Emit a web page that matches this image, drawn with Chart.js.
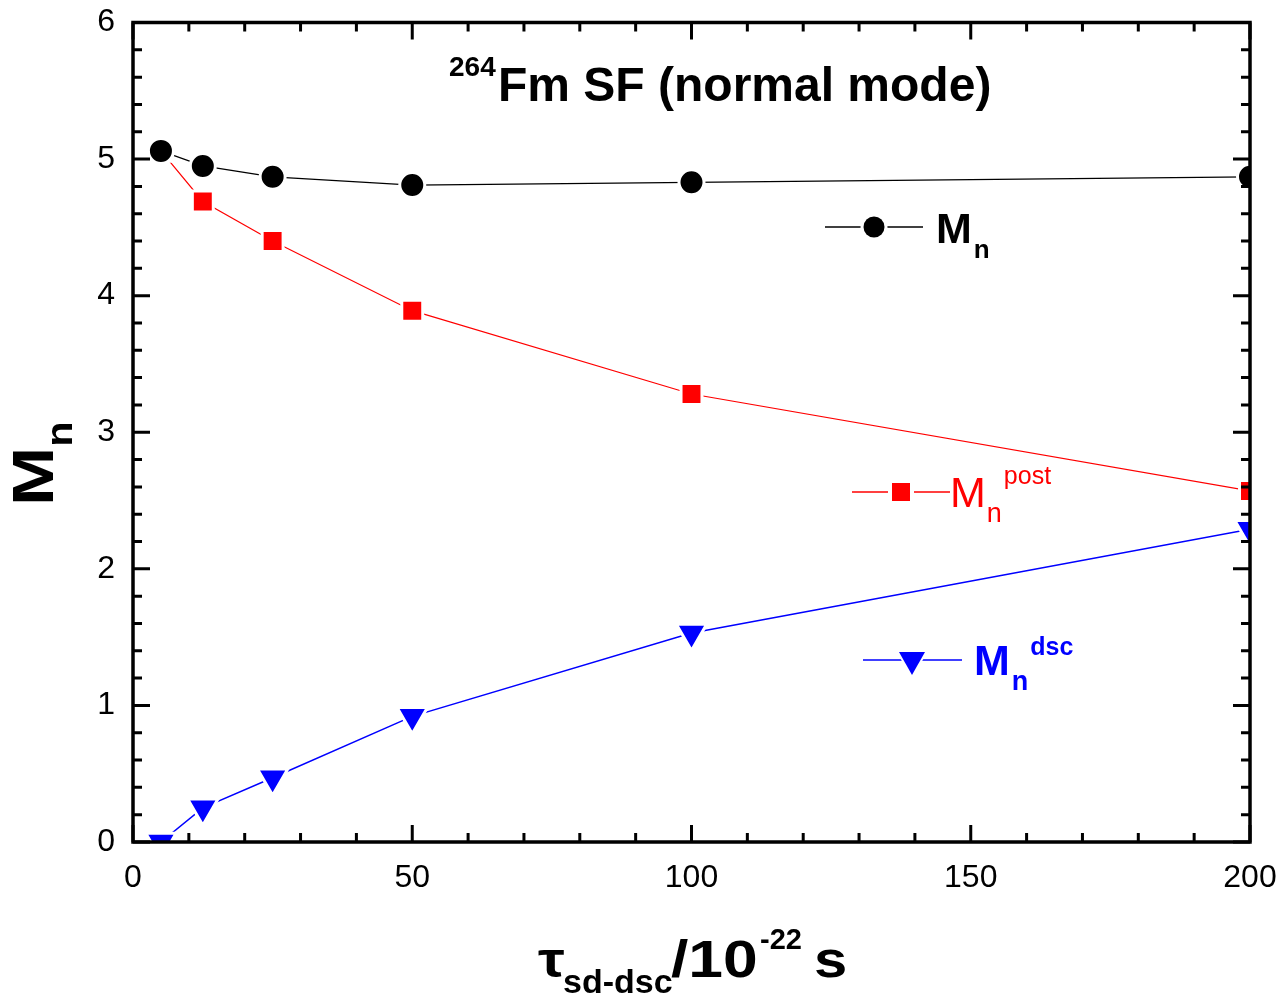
<!DOCTYPE html>
<html>
<head>
<meta charset="utf-8">
<script src="https://cdn.jsdelivr.net/npm/chart.js@4.4.1/dist/chart.umd.min.js"></script>
<style>
html,body{margin:0;padding:0;background:#fff;}
#wrap{width:1285px;height:1002px;position:relative;}
</style>
</head>
<body>
<div id="wrap"><canvas id="c" width="1285" height="1002"></canvas></div>
<script>
// ---- data ----
const tauValues = [5, 12.5, 25, 50, 100, 200];
const mnTotal = [5.06, 4.95, 4.87, 4.81, 4.83, 4.87];
const mnPost  = [5.06, 4.69, 4.40, 3.89, 3.28, 2.57];
const mnDsc   = [0.00, 0.25, 0.47, 0.92, 1.53, 2.29];
const xTicks = [0, 50, 100, 150, 200];
const yTicks = [0, 1, 2, 3, 4, 5, 6];

const FONT = '"Liberation Sans", Arial, Helvetica, sans-serif';
const pts = (ys) => tauValues.map((x, i) => ({x: x, y: ys[i]}));

// segments: t text, f font, dy baseline shift, c colour, gap, ax absolute x, sx horizontal scale
function drawRich(ctx, x, y, segs) {
  let cx = x;
  segs.forEach(s => {
    ctx.font = s.f + ' ' + FONT;
    ctx.fillStyle = s.c || '#000';
    ctx.textBaseline = 'alphabetic';
    ctx.textAlign = 'left';
    if (s.ax !== undefined) cx = s.ax;
    cx += (s.gap || 0);
    const sx = s.sx || 1;
    ctx.save();
    ctx.translate(cx, y + (s.dy || 0));
    ctx.scale(sx, 1);
    ctx.fillText(s.t, 0, 0);
    ctx.restore();
    cx += ctx.measureText(s.t).width * sx;
  });
  return cx;
}

const decor = {
  id: 'decor',
  afterDraw(chart) {
    const ctx = chart.ctx;
    const xs = chart.scales.x, ys = chart.scales.y;
    const a = chart.chartArea;
    ctx.save();
    // ticks (inward on all four sides)
    ctx.strokeStyle = '#000';
    ctx.lineWidth = 3;
    ctx.lineCap = 'butt';
    const MAJ = 17, MIN = 9;
    for (let v = 0; v <= 200.001; v += 10) {
      const px = xs.getPixelForValue(v);
      const L = (Math.abs(v % 50) < 1e-6) ? MAJ : MIN;
      ctx.beginPath();
      ctx.moveTo(px, a.bottom); ctx.lineTo(px, a.bottom - L);
      ctx.moveTo(px, a.top); ctx.lineTo(px, a.top + L);
      ctx.stroke();
    }
    for (let k = 0; k <= 30; k++) {
      const v = k * 0.2;
      const py = ys.getPixelForValue(v);
      const L = (k % 5 === 0) ? MAJ : MIN;
      ctx.beginPath();
      ctx.moveTo(a.left, py); ctx.lineTo(a.left + L, py);
      ctx.moveTo(a.right, py); ctx.lineTo(a.right - L, py);
      ctx.stroke();
    }
    // frame
    ctx.lineWidth = 3.5;
    ctx.strokeRect(a.left, a.top, a.right - a.left, a.bottom - a.top);

    // in-plot title
    drawRich(ctx, 449, 101, [
      {t: '264', f: 'bold 28px', dy: -25},
      {t: 'Fm SF (normal mode)', f: 'bold 48px', ax: 498}
    ]);

    // x axis title
    drawRich(ctx, 538, 977, [
      {t: '\u03C4', f: 'bold 50px', sx: 1.2},
      {t: 'sd-dsc', f: 'bold 34px', dy: 16, ax: 563},
      {t: '/10', f: 'bold 52px', sx: 1.2, ax: 671},
      {t: '-22', f: 'bold 29px', dy: -28, ax: 760},
      {t: 's', f: 'bold 52px', sx: 1.15, ax: 814}
    ]);

    // y axis title (rotated)
    ctx.save();
    ctx.translate(53, 506);
    ctx.rotate(-Math.PI / 2);
    drawRich(ctx, 0, 0, [
      {t: 'M', f: 'bold 57px', sx: 1.25},
      {t: 'n', f: 'bold 36px', dy: 19, sx: 1.15}
    ]);
    ctx.restore();

    // legend entries
    function legendLine(x1, x2, y, color, w) {
      ctx.strokeStyle = color; ctx.lineWidth = w;
      ctx.beginPath(); ctx.moveTo(x1, y); ctx.lineTo(x2, y); ctx.stroke();
    }
    // black
    legendLine(825, 923, 227, '#000', 1.5);
    ctx.fillStyle = '#fff';
    ctx.beginPath(); ctx.arc(874, 227, 13.5, 0, Math.PI * 2); ctx.fill();
    ctx.fillStyle = '#000';
    ctx.beginPath(); ctx.arc(874, 227, 10.5, 0, Math.PI * 2); ctx.fill();
    drawRich(ctx, 936, 243, [
      {t: 'M', f: 'bold 43px', c: '#000'},
      {t: 'n', f: 'bold 26px', dy: 15, c: '#000', gap: 2}
    ]);
    // red
    legendLine(852, 950, 492, '#ff0000', 1.5);
    ctx.fillStyle = '#fff'; ctx.fillRect(888, 479, 26, 26);
    ctx.fillStyle = '#ff0000'; ctx.fillRect(892, 483, 18, 18);
    drawRich(ctx, 950, 507, [
      {t: 'M', f: '43px', c: '#ff0000'},
      {t: 'n', f: '27px', dy: 15, c: '#ff0000', gap: 1},
      {t: 'post', f: '25px', dy: -23, c: '#ff0000', gap: 2}
    ]);
    // blue
    legendLine(863, 962, 660, '#0000ff', 1.5);
    ctx.fillStyle = '#fff';
    ctx.beginPath(); ctx.moveTo(895, 649); ctx.lineTo(929, 649); ctx.lineTo(912, 679); ctx.closePath(); ctx.fill();
    ctx.fillStyle = '#0000ff';
    ctx.beginPath(); ctx.moveTo(899, 652); ctx.lineTo(925, 652); ctx.lineTo(912, 675); ctx.closePath(); ctx.fill();
    drawRich(ctx, 974, 675, [
      {t: 'M', f: 'bold 43px', c: '#0000ff'},
      {t: 'n', f: 'bold 27px', dy: 15, c: '#0000ff', gap: 2},
      {t: 'dsc', f: 'bold 25px', dy: -20, c: '#0000ff', gap: 2}
    ]);
    ctx.restore();
  }
};

new Chart(document.getElementById('c'), {
  type: 'line',
  data: {
    datasets: [
      {
        label: 'Mn', data: pts(mnTotal),
        borderColor: '#000', borderWidth: 1.2,
        pointStyle: 'circle', pointRadius: 12.5, pointBorderWidth: 3,
        pointBackgroundColor: '#000', pointBorderColor: '#fff'
      },
      {
        label: 'Mn post', data: pts(mnPost),
        borderColor: '#ff0000', borderWidth: 1.2,
        pointStyle: 'rect', pointRadius: 14.8, pointBorderWidth: 3,
        pointBackgroundColor: '#ff0000', pointBorderColor: '#fff'
      },
      {
        label: 'Mn dsc', data: pts(mnDsc),
        borderColor: '#0000ff', borderWidth: 1.5,
        pointStyle: 'triangle', pointRotation: 180, pointRadius: 17.5, pointBorderWidth: 3,
        pointBackgroundColor: '#0000ff', pointBorderColor: '#fff'
      }
    ]
  },
  options: {
    responsive: false,
    animation: false,
    events: [],
    layout: {padding: {left: 0, right: 35, top: 22.5, bottom: 0}},
    plugins: {legend: {display: false}, tooltip: {enabled: false}, title: {display: false}},
    scales: {
      x: {
        type: 'linear', min: 0, max: 200,
        afterFit: (s) => { s.height = 160; s.paddingLeft = 0; s.paddingRight = 0; },
        afterBuildTicks: (s) => { s.ticks = xTicks.map(v => ({value: v})); },
        grid: {display: false, drawTicks: false},
        border: {display: false},
        ticks: {padding: 17, color: '#000', font: {family: FONT, size: 32}, maxRotation: 0}
      },
      y: {
        type: 'linear', min: 0, max: 6,
        afterFit: (s) => { s.width = 133; s.paddingTop = 0; s.paddingBottom = 0; },
        afterBuildTicks: (s) => { s.ticks = yTicks.map(v => ({value: v})); },
        grid: {display: false, drawTicks: false},
        border: {display: false},
        ticks: {padding: 18, color: '#000', font: {family: FONT, size: 32}}
      }
    }
  },
  plugins: [decor]
});
</script>
</body>
</html>
